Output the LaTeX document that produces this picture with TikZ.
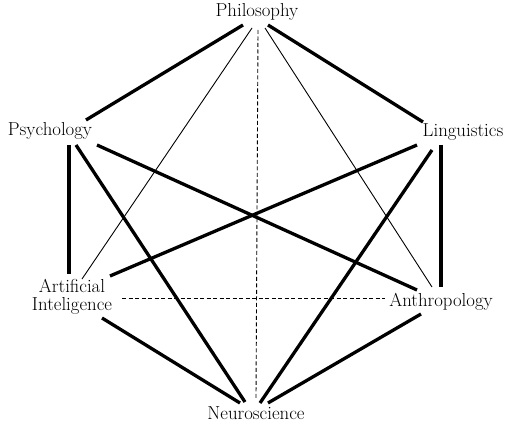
\documentclass[tikz,border=0pt]{standalone}
\usepackage{tikz}

\begin{document}
\begin{tikzpicture}[
    x=1pt, y=1pt,
    field/.style={inner sep=0pt, align=center, font=\fontsize{18.8}{18}\selectfont},
    strong/.style={line width=3.3pt},
    weak/.style={line width=0.9pt},
    loose/.style={line width=0.9pt, dash pattern=on 4pt off 2.5pt}
]
\useasboundingbox (0,0) rectangle (507,424);

% Disciplines placed round the hexagon.
\node[field] (phi) at (257,412) {Philosophy};
\node[field] (psy) at (50,293) {Psychology};
\node[field] (lin) at (463,292) {Linguistics};
\node[field] (ai)  at (72,127) {Artificial\\Inteligence};
\node[field] (ant) at (441,122) {Anthropology};
\node[field] (neu) at (256,11) {Neuroscience};

% Strong links.
\draw[strong] ([shift={(-14,-13)}]phi.center) -- ([shift={(36,11)}]psy.center);
\draw[strong] ([shift={(11,-13)}]phi.center) -- ([shift={(-40,10)}]lin.center);
\draw[strong] ([shift={(19,-14)}]psy.center) -- ([shift={(-3,23)}]ai.center);
\draw[strong] ([shift={(26,-14)}]psy.center) -- ([shift={(-11,11)}]neu.center);
\draw[strong] ([shift={(47,-14)}]psy.center) -- ([shift={(-24,12)}]ant.center);
\draw[strong] ([shift={(-46,-13)}]lin.center) -- ([shift={(38,21)}]ai.center);
\draw[strong] ([shift={(-31,-18)}]lin.center) -- ([shift={(4,10)}]neu.center);
\draw[strong] ([shift={(-22,-13)}]lin.center) -- ([shift={(0,15)}]ant.center);
\draw[strong] ([shift={(30,-21)}]ai.center) -- ([shift={(-16,10)}]neu.center);
\draw[strong] ([shift={(-20,-12)}]ant.center) -- ([shift={(12,10)}]neu.center);

% Weak and loose links.
\draw[weak] ([shift={(-5,-16)}]phi.center) -- ([shift={(10,18)}]ai.center);
\draw[weak] ([shift={(8,-16)}]phi.center) -- ([shift={(-9,15)}]ant.center);
\draw[loose] ([shift={(1,-18)}]phi.center) -- ([shift={(0,15)}]neu.center);
\draw[loose] ([shift={(50,-1)}]ai.center) -- ([shift={(-56,4)}]ant.center);

\end{tikzpicture}
\end{document}
